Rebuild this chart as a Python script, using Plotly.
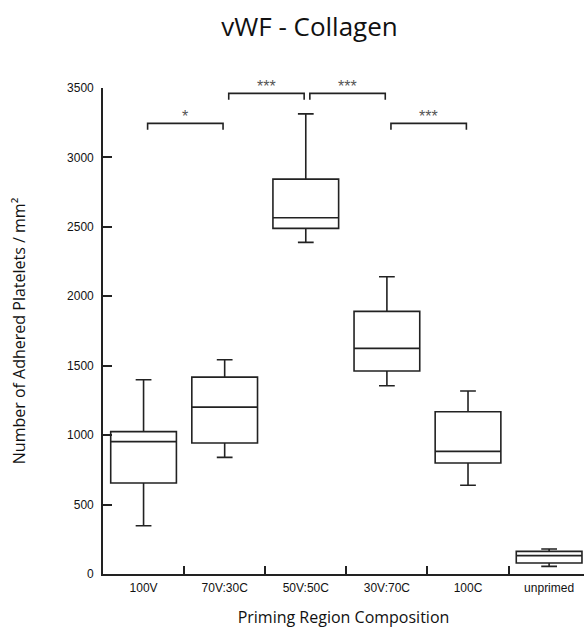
import plotly.graph_objects as go

categories = ["100V", "70V:30C", "50V:50C", "30V:70C", "100C", "unprimed"]
lower_whisker = [348, 840, 2388, 1356, 639, 55]
q1_vals = [655, 943, 2489, 1462, 799, 79]
median_vals = [953, 1202, 2566, 1625, 883, 132]
q3_vals = [1025, 1418, 2844, 1891, 1169, 163]
upper_whisker = [1399, 1543, 3314, 2141, 1318, 180]

# significance brackets: start category index, end category index, level, label
sig_start = [0, 1, 2, 3]
sig_end = [1, 2, 3, 4]
sig_level = [3245, 3461, 3461, 3245]
sig_label = ["*", "***", "***", "***"]

Y_MAX = 3500
LINE = "#222222"
fig = go.Figure()
for i, c in enumerate(categories):
    fig.add_trace(go.Box(
        x=[i], q1=[q1_vals[i]], median=[median_vals[i]], q3=[q3_vals[i]],
        lowerfence=[lower_whisker[i]], upperfence=[upper_whisker[i]],
        width=0.81, whiskerwidth=0.24, fillcolor="white",
        line=dict(color=LINE, width=1.6), boxpoints=False, showlegend=False,
        hoverinfo="skip",
    ))

for s, e, lv, lab in zip(sig_start, sig_end, sig_level, sig_label):
    x0 = s + 0.05
    x1 = e - 0.02
    drop = 45
    fig.add_trace(go.Scatter(
        x=[x0, x0, x1, x1], y=[lv - drop, lv, lv, lv - drop], mode="lines",
        line=dict(color=LINE, width=1.6), showlegend=False, hoverinfo="skip",
        cliponaxis=False,
    ))
    fig.add_annotation(x=(x0 + x1) / 2, xref="x", y=(lv + 50) / Y_MAX, yref="paper",
                       text=lab, showarrow=False, yanchor="middle",
                       font=dict(family="Liberation Sans", size=16, color="#555"))

fig.update_layout(
    width=584, height=628,
    margin=dict(l=103, r=0, t=88, b=54),
    paper_bgcolor="white", plot_bgcolor="white",
    title=dict(text="vWF - Collagen", x=0.53, xanchor="center", y=0.957, yanchor="middle",
               font=dict(family="Open Sans", size=26, color="#111")),
    font=dict(family="Liberation Sans", size=12, color="#111"),
)
fig.update_xaxes(
    range=[-0.5, 5.43], tickmode="array", tickvals=list(range(len(categories))),
    ticktext=categories, ticks="", showgrid=False, zeroline=False, automargin=False,
    showline=True, linecolor=LINE, linewidth=1.6, ticklabelstandoff=2,
    tickfont=dict(family="Liberation Sans", size=12, color="#111"),
    title=dict(text="Priming Region Composition", standoff=22,
               font=dict(family="Open Sans", size=16, color="#111")),
)
fig.update_xaxes(minor=dict(tickmode="array", tickvals=[0.5, 1.5, 2.5, 3.5, 4.5],
                            ticks="inside", ticklen=8, tickwidth=1.6, tickcolor=LINE, showgrid=False))
fig.update_yaxes(
    range=[0, Y_MAX], tickvals=[0, 500, 1000, 1500, 2000, 2500, 3000, 3500],
    ticks="inside", ticklen=9, tickwidth=1.6, tickcolor=LINE, showgrid=False, zeroline=False,
    showline=True, linecolor=LINE, linewidth=1.6, automargin=False, ticklabelstandoff=5,
    tickfont=dict(family="Liberation Sans", size=12, color="#111"),
    title=dict(text="Number of Adhered Platelets / mm²", standoff=37,
               font=dict(family="Open Sans", size=16, color="#111")),
)
fig.write_html("out.html", config={"displayModeBar": False},
               post_script="document.body.style.margin='0';document.body.style.overflow='hidden';")
